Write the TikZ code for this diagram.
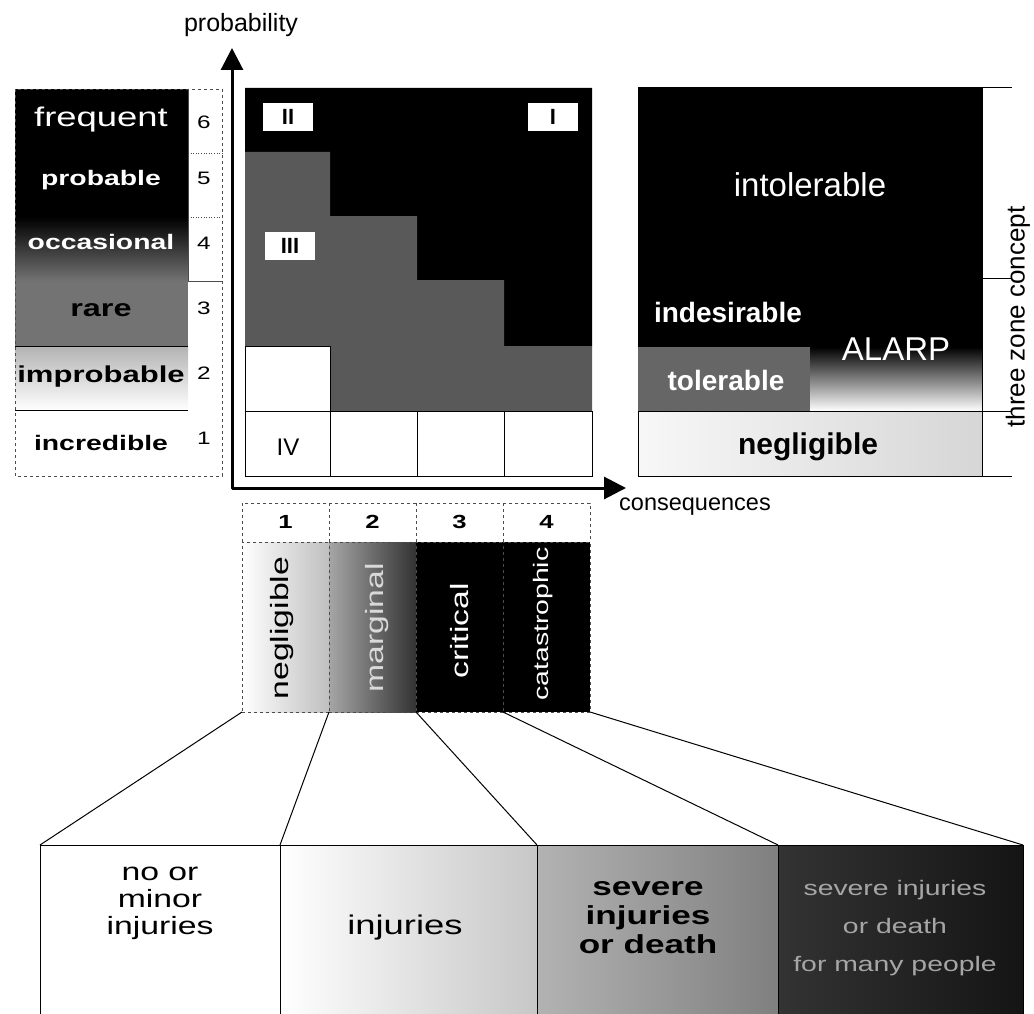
\documentclass[tikz,border=0pt]{standalone}
\usepackage{fontspec}
\setmainfont{Liberation Sans}
\newfontfamily\widefont{Liberation Sans}[FakeStretch=1.35]
\usetikzlibrary{arrows.meta}

\begin{document}
\begin{tikzpicture}[x=1pt, y=-1pt,
	widetxt/.style={font=\widefont\fontsize{#1}{#1}\selectfont, inner sep=0pt},
	widebold/.style={font=\widefont\bfseries\fontsize{#1}{#1}\selectfont, inner sep=0pt},
	txt/.style={font=\fontsize{#1}{#1}\selectfont, inner sep=0pt},
	txtbold/.style={font=\bfseries\fontsize{#1}{#1}\selectfont, inner sep=0pt},
	axisline/.style={line width=3pt, line join=round},
	dashframe/.style={draw=black!70, line width=0.6pt, dashed},
	cellline/.style={draw=black, line width=0.7pt},
	catcell/.style={draw=black!70, dashed, line width=0.6pt, minimum width=87pt, minimum height=170pt, inner sep=0pt, outer sep=0pt},
	harmbox/.style={draw=black, line width=1pt, minimum height=175pt, inner sep=0pt, outer sep=0pt},
	classbox/.style={fill=white, minimum width=50pt, minimum height=28pt, inner sep=0pt, font=\bfseries\fontsize{22}{22}\selectfont}
	]
	
	\useasboundingbox (0,0) rectangle (1034,1014);
	
	\fill[black] (15,89) rectangle (188,217);
	\shade[top color=black, middle color=black!90, bottom color=black!55] (15,217) rectangle (188,281);
	\fill[black!55] (15,281) rectangle (188,346);
	\shade[top color=black!30, bottom color=white] (15,346) rectangle (188,410);
	\draw[dashframe] (15,89) rectangle (222,476);
	\draw[line width=0.6pt, black!70] (188,89) -- (188,281) -- (222,281);
	\draw[line width=0.6pt, black!70, dotted] (188,153) -- (222,153) (188,217) -- (222,217);
	\draw[line width=0.7pt] (15,346) -- (188,346) (15,410) -- (188,410);
	
	\node[widetxt=27, white] (freq) at (101,120) {frequent};
	\node[widebold=21, white] (prob) at (101,180) {probable};
	\node[widebold=21, white] (occ) at (101,242) {occasional};
	\node[widebold=24] (rare) at (101,310) {rare};
	\node[widebold=23] (improb) at (101,377) {improbable};
	\node[widebold=21] (incr) at (101,443) {incredible};
	
	\node[widetxt=18] (p6) at (204,122) {6};
	\node[widetxt=18] (p5) at (204,178) {5};
	\node[widetxt=18] (p4) at (204,243) {4};
	\node[widetxt=18] (p3) at (204,308) {3};
	\node[widetxt=18] (p2) at (204,373) {2};
	\node[widetxt=18] (p1) at (204,438) {1};
	
	\fill[black] (245,88) -- (592,88) -- (592,346) -- (504,346) -- (504,280) -- (417,280) -- (417,216) -- (330,216) -- (330,152) -- (245,152) -- cycle;
	\fill[black!65] (245,152) -- (330,152) -- (330,216) -- (417,216) -- (417,280) -- (504,280) -- (504,346) -- (592,346) -- (592,411) -- (330,411) -- (330,346) -- (245,346) -- cycle;
	\draw[cellline] (245,346) rectangle (330,411);
	\draw[cellline] (245,411) rectangle (592,476);
	\draw[cellline] (330,411) -- (330,476) (417,411) -- (417,476) (504,411) -- (504,476);
	
	\node[classbox] (cII) at (288,117) {II};
	\node[classbox] (cI) at (553,117) {I};
	\node[classbox] (cIII) at (290,246) {III};
	\node[txt=24] (cIV) at (288,447) {IV};
	
	\coordinate (ytip) at (232,48);
	\coordinate (origin) at (232,488);
	\coordinate (xtip) at (626,488);
	\draw[axisline, {Triangle[length=22pt,width=22pt]}-{Triangle[length=22pt,width=22pt]}] (ytip) -- (origin) -- (xtip);
	\node[txt=25] (probability) at (241,25) {probability};
	\node[txt=23.5] (consequences) at (695,507) {consequences};
	
	\fill[black] (638,87) rectangle (982,347);
	\fill[black!60] (638,347) rectangle (810,411);
	\shade[top color=black, middle color=black!85, bottom color=white] (810,347) rectangle (982,411);
	\shade[left color=black!3, right color=black!16] (638,411) rectangle (982,476);
	\draw[line width=0.7pt] (638,411) rectangle (982,476);
	\draw[line width=0.8pt] (982,87) -- (982,476);
	\draw[line width=0.8pt] (982,87) -- (1012,87) (982,278) -- (1012,278) (982,411) -- (1012,411) (982,476) -- (1012,476);
	
	\node[txt=33, white] (intol) at (810,185) {intolerable};
	\node[txtbold=28, white] (indes) at (728,312) {indesirable};
	\node[txt=33, white] (alarp) at (896,349) {ALARP};
	\node[txtbold=28, white] (tol) at (726,380) {tolerable};
	\node[txtbold=30] (negzone) at (808,447) {negligible};
	\node[txt=26, rotate=90] (three) at (1018,317) {three zone concept};
	
	\draw[dashframe] (242,503) rectangle (590,542);
	\draw[dashframe] (329,503) -- (329,542) (416,503) -- (416,542) (503,503) -- (503,542);
	\node[widebold=19] (n1) at (285.5,522) {1};
	\node[widebold=19] (n2) at (372.5,522) {2};
	\node[widebold=19] (n3) at (459.5,522) {3};
	\node[widebold=19] (n4) at (546.5,522) {4};
	
	\node[catcell, left color=white, right color=black!25] (c1) at (285.5,627) {};
	\node[catcell, left color=black!35, right color=black!80] (c2) at (372.5,627) {};
	\node[catcell, fill=black] (c3) at (459.5,627) {};
	\node[catcell, fill=black] (c4) at (546.5,627) {};
	\node[widetxt=25, rotate=90] (negl) at (282,628) {negligible};
	\node[widetxt=25, rotate=90, white!85!black] (marg) at (377,628) {marginal};
	\node[widetxt=25, rotate=90, white] (crit) at (460,631) {critical};
	\node[widetxt=21, rotate=90, white] (cata) at (543,624) {catastrophic};
	
	\node[harmbox, fill=white, minimum width=240pt] (h1) at (160,932.5) {};
	\node[harmbox, left color=white, right color=black!22, minimum width=257pt] (h2) at (408.5,932.5) {};
	\node[harmbox, left color=black!30, right color=black!50, minimum width=241pt] (h3) at (657.5,932.5) {};
	\node[harmbox, left color=black!80, right color=black!92, minimum width=245pt] (h4) at (900.5,932.5) {};
	
	\draw[line width=1pt] (c1.south west) -- (h1.north west);
	\draw[line width=1pt] (c1.south east) -- (h1.north east);
	\draw[line width=1pt] (c2.south east) -- (h2.north east);
	\draw[line width=1pt] (c3.south east) -- (h3.north east);
	\draw[line width=1pt] (c4.south east) -- (h4.north east);
	
	\node[inner sep=0pt, align=center, font=\widefont\fontsize{25}{27}\selectfont] (t1) at (160,903) {no or\\minor\\injuries};
	\node[widetxt=27] (t2) at (405,928) {injuries};
	\node[inner sep=0pt, align=center, font=\widefont\bfseries\fontsize{26}{29}\selectfont] (t3) at (648,918) {severe\\injuries\\or death};
	\node[inner sep=0pt, align=center, black!35, font=\widefont\fontsize{21}{38}\selectfont] (t4) at (895,928) {severe injuries\\or death\\for many people};
	
\end{tikzpicture}
\end{document}
